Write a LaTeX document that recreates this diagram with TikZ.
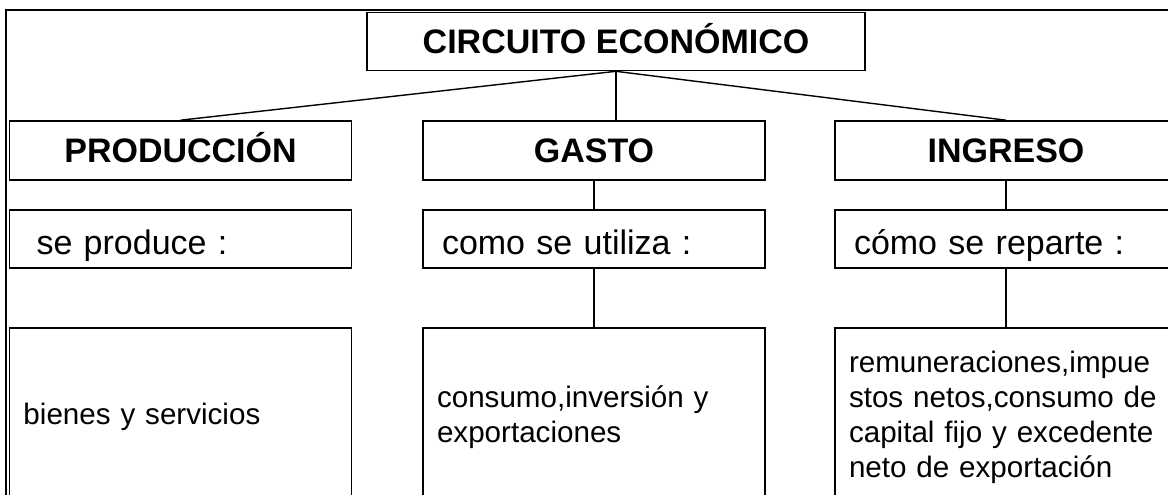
\documentclass[tikz,border=0pt]{standalone}
\usepackage{fontspec}
\setmainfont{Liberation Sans}
\begin{document}
\begin{tikzpicture}[x=0.5pt,y=-0.5pt,
  titlebox/.style={draw,line width=0.8pt,minimum width=249pt,minimum height=29pt,inner sep=0pt,text height=12.2pt,text depth=0pt,font=\fontsize{17}{20}\selectfont\bfseries},
  headbox/.style={draw,line width=0.8pt,minimum width=171pt,minimum height=29.5pt,inner sep=0pt,text height=12.2pt,text depth=0pt,font=\fontsize{17}{20}\selectfont\bfseries},
  askbox/.style={draw,line width=0.8pt,minimum height=29pt,inner xsep=9.5pt,inner ysep=0pt,text width=152pt,text height=17pt,text depth=2pt,align=left,font=\fontsize{17}{20}\selectfont},
  listbox/.style={draw,line width=0.8pt,minimum height=89pt,inner xsep=7pt,inner ysep=0pt,text width=157pt,align=left,font=\fontsize{14.8}{17.5}\selectfont},
  link/.style={line width=0.7pt}]
\clip (0,0) rectangle (1168,494);
\draw[line width=1.2pt] (6,520) -- (6,10) -- (1200,10);
\node[titlebox](circuito) at (616,41.5) {CIRCUITO ECONÓMICO};
\node[headbox](produccion) at (180.5,150.5) {PRODUCCIÓN};
\node[headbox](gasto) at (594,150.5) {GASTO};
\node[headbox](ingreso) at (1006,150.5) {INGRESO};
\node[askbox](produce) at (180.5,239) {\hspace*{4pt}se produce :};
\node[askbox](utiliza) at (594,239) {como se utiliza :};
\node[askbox](reparte) at (1006,239) {cómo se reparte :};
\node[listbox](bienes) at (180.5,417) {bienes y servicios};
\node[listbox](consumo) at (594,417) {consumo,inversión y\\exportaciones};
\node[listbox](remun) at (1006,417) {remuneraciones,impue\\stos netos,consumo de\\capital fijo y excedente\\neto de exportación};
\draw[link](circuito.south) -- (produccion.north);
\draw[link](circuito.south) -- (circuito.south |- gasto.north);
\draw[link](circuito.south) -- (ingreso.north);
\draw[link](gasto) -- (utiliza);
\draw[link](ingreso) -- (reparte);
\draw[link](utiliza) -- (consumo);
\draw[link](reparte) -- (remun);
\end{tikzpicture}
\end{document}
